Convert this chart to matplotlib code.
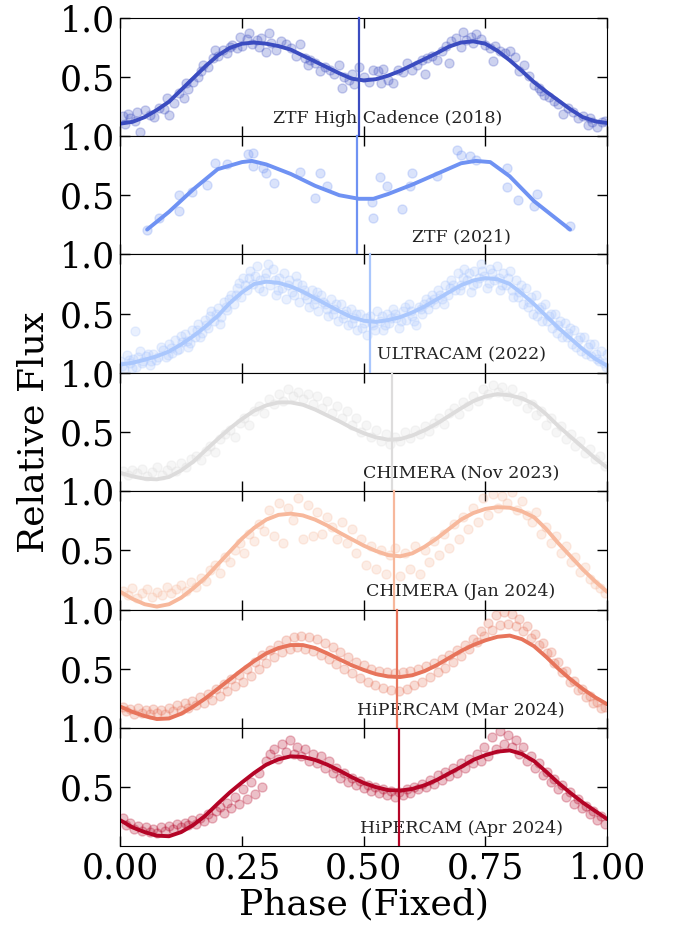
import matplotlib
matplotlib.use("Agg")
import matplotlib.pyplot as plt
import numpy as np

plt.rcParams['font.family'] = 'serif'
plt.rcParams['font.serif'] = ['DejaVu Serif']

# names of the seven light curves, top to bottom
labels = ['ZTF High Cadence (2018)', 'ZTF (2021)', 'ULTRACAM (2022)',
          'CHIMERA (Nov 2023)', 'CHIMERA (Jan 2024)',
          'HiPERCAM (Mar 2024)', 'HiPERCAM (Apr 2024)']

# phase of minimum light marked in each panel
min_phase = [0.491, 0.486, 0.512, 0.558, 0.563, 0.568, 0.572]

# --- folded photometry (phase, relative flux) ---
ztf18_ph = [0.005, 0.01, 0.015, 0.02, 0.03, 0.035, 0.04, 0.05, 0.06, 0.07, 0.08, 0.09, 0.095, 0.10, 0.11,
            0.12, 0.13, 0.135, 0.14, 0.15, 0.16, 0.165, 0.17, 0.18, 0.19, 0.195, 0.20, 0.21, 0.22, 0.225,
            0.23, 0.24, 0.245, 0.25, 0.26, 0.265, 0.27, 0.28, 0.285, 0.29, 0.30, 0.305, 0.31, 0.32, 0.33,
            0.34, 0.35, 0.36, 0.37, 0.38, 0.385, 0.39, 0.40, 0.41, 0.42, 0.43, 0.44, 0.45, 0.455, 0.46,
            0.47, 0.475, 0.48, 0.49, 0.50, 0.51, 0.52, 0.53, 0.535, 0.54, 0.55, 0.56, 0.57, 0.58, 0.59,
            0.60, 0.61, 0.62, 0.625, 0.63, 0.64, 0.65, 0.66, 0.67, 0.675, 0.68, 0.69, 0.70, 0.705, 0.71,
            0.72, 0.725, 0.73, 0.74, 0.75, 0.76, 0.765, 0.77, 0.78, 0.79, 0.80, 0.81, 0.82, 0.83, 0.84,
            0.85, 0.86, 0.865, 0.87, 0.88, 0.89, 0.90, 0.91, 0.92, 0.93, 0.94, 0.95, 0.96, 0.965, 0.97,
            0.98, 0.99, 0.995]
ztf18_fl = [0.17, 0.10, 0.19, 0.15, 0.13, 0.20, 0.03, 0.22, 0.18, 0.16, 0.24, 0.23, 0.32, 0.18, 0.28,
            0.36, 0.32, 0.45, 0.40, 0.46, 0.50, 0.55, 0.60, 0.58, 0.66, 0.73, 0.68, 0.73, 0.70, 0.75,
            0.77, 0.74, 0.84, 0.76, 0.82, 0.87, 0.78, 0.81, 0.75, 0.83, 0.71, 0.87, 0.79, 0.73, 0.80,
            0.78, 0.74, 0.68, 0.78, 0.66, 0.60, 0.64, 0.62, 0.55, 0.58, 0.56, 0.52, 0.60, 0.41, 0.50,
            0.47, 0.52, 0.44, 0.58, 0.50, 0.46, 0.56, 0.55, 0.45, 0.57, 0.47, 0.45, 0.56, 0.54, 0.62,
            0.56, 0.60, 0.64, 0.52, 0.66, 0.68, 0.64, 0.72, 0.76, 0.62, 0.80, 0.83, 0.75, 0.88, 0.81,
            0.84, 0.79, 0.86, 0.82, 0.77, 0.74, 0.63, 0.76, 0.72, 0.70, 0.72, 0.67, 0.55, 0.60, 0.51,
            0.43, 0.41, 0.38, 0.35, 0.33, 0.30, 0.27, 0.19, 0.24, 0.20, 0.15, 0.17, 0.09, 0.15, 0.12,
            0.08, 0.12, 0.13]

ztf21_ph = [0.055, 0.079, 0.12, 0.12, 0.147, 0.178, 0.195, 0.22, 0.263, 0.273, 0.273, 0.294, 0.30,
            0.315, 0.37, 0.40, 0.41, 0.424, 0.517, 0.52, 0.534, 0.548, 0.578, 0.595, 0.599, 0.65,
            0.691, 0.70, 0.718, 0.73, 0.794, 0.794, 0.818, 0.849, 0.856, 0.924]
ztf21_fl = [0.21, 0.31, 0.505, 0.37, 0.53, 0.59, 0.77, 0.76, 0.85, 0.86, 0.75, 0.73, 0.69,
            0.60, 0.70, 0.48, 0.69, 0.58, 0.44, 0.31, 0.65, 0.58, 0.38, 0.58, 0.69, 0.66,
            0.88, 0.84, 0.83, 0.80, 0.73, 0.57, 0.46, 0.41, 0.51, 0.24]

ucam_ph = [0.000, 0.007, 0.013, 0.020, 0.027, 0.030, 0.033, 0.040, 0.047, 0.053, 0.060, 0.067, 0.073,
           0.087, 0.093, 0.100, 0.107, 0.113, 0.120, 0.127, 0.133, 0.140, 0.147, 0.153, 0.160, 0.167,
           0.173, 0.180, 0.187, 0.193, 0.200, 0.207, 0.213, 0.220, 0.227, 0.233, 0.240, 0.247, 0.253,
           0.260, 0.267, 0.273, 0.280, 0.287, 0.293, 0.300, 0.307, 0.313, 0.320, 0.327, 0.333, 0.340,
           0.347, 0.353, 0.360, 0.367, 0.373, 0.380, 0.387, 0.393, 0.400, 0.407, 0.413, 0.420, 0.427,
           0.433, 0.440, 0.447, 0.453, 0.460, 0.467, 0.473, 0.480, 0.487, 0.493, 0.500, 0.507, 0.513,
           0.520, 0.527, 0.533, 0.540, 0.547, 0.553, 0.560, 0.567, 0.573, 0.580, 0.587, 0.593, 0.600,
           0.607, 0.613, 0.620, 0.627, 0.633, 0.640, 0.647, 0.653, 0.660, 0.667, 0.673, 0.680, 0.687,
           0.693, 0.700, 0.707, 0.713, 0.720, 0.727, 0.733, 0.740, 0.747, 0.753, 0.760, 0.767, 0.773,
           0.780, 0.787, 0.793, 0.800, 0.807, 0.813, 0.820, 0.827, 0.833, 0.840, 0.847, 0.853, 0.860,
           0.867, 0.873, 0.880, 0.887, 0.893, 0.900, 0.907, 0.913, 0.920, 0.927, 0.933, 0.940, 0.947,
           0.953, 0.960, 0.967, 0.973, 0.980, 0.987, 0.993, 1.000,
           0.004, 0.017, 0.024, 0.037, 0.044, 0.057, 0.064, 0.077, 0.084, 0.097, 0.104, 0.117,
           0.124, 0.137, 0.144, 0.157, 0.164, 0.177, 0.184, 0.197, 0.204, 0.217, 0.224, 0.237,
           0.244, 0.257, 0.264, 0.277, 0.284, 0.297, 0.304, 0.317, 0.324, 0.337, 0.344, 0.357,
           0.364, 0.377, 0.384, 0.397, 0.404, 0.417, 0.424, 0.437, 0.444, 0.457, 0.464, 0.477,
           0.484, 0.497, 0.504, 0.517, 0.524, 0.537, 0.544, 0.557, 0.564, 0.577, 0.584, 0.597,
           0.604, 0.617, 0.624, 0.637, 0.644, 0.657, 0.664, 0.677, 0.684, 0.697, 0.704, 0.717,
           0.724, 0.737, 0.744, 0.757, 0.764, 0.777, 0.784, 0.797, 0.804, 0.817, 0.824, 0.837,
           0.844, 0.857, 0.864, 0.877, 0.884, 0.897, 0.904, 0.917, 0.924, 0.937, 0.944, 0.957,
           0.964, 0.977, 0.984, 0.997]
ucam_fl = [0.10, 0.03, 0.15, 0.08, 0.12, 0.35, 0.05, 0.18, 0.10, 0.14, 0.07, 0.16, 0.11,
           0.19, 0.13, 0.24, 0.17, 0.28, 0.20, 0.26, 0.33, 0.22, 0.36, 0.30, 0.41, 0.34,
           0.45, 0.38, 0.52, 0.44, 0.55, 0.47, 0.60, 0.53, 0.66, 0.58, 0.72, 0.64, 0.80,
           0.70, 0.86, 0.75, 0.90, 0.78, 0.69, 0.84, 0.74, 0.88, 0.66, 0.80, 0.72, 0.62,
           0.78, 0.68, 0.82, 0.60, 0.74, 0.66, 0.56, 0.70, 0.62, 0.52, 0.66, 0.58, 0.48,
           0.62, 0.54, 0.44, 0.58, 0.50, 0.40, 0.54, 0.46, 0.36, 0.50, 0.42, 0.32, 0.48,
           0.40, 0.52, 0.44, 0.36, 0.50, 0.42, 0.54, 0.46, 0.38, 0.52, 0.45, 0.58, 0.48,
           0.40, 0.56, 0.50, 0.62, 0.54, 0.66, 0.58, 0.70, 0.62, 0.74, 0.66, 0.78, 0.70,
           0.84, 0.74, 0.88, 0.78, 0.68, 0.86, 0.76, 0.92, 0.82, 0.72, 0.88, 0.78, 0.90,
           0.70, 0.84, 0.74, 0.86, 0.64, 0.78, 0.68, 0.58, 0.72, 0.60, 0.50, 0.66, 0.54,
           0.44, 0.58, 0.48, 0.38, 0.50, 0.40, 0.30, 0.42, 0.34, 0.24, 0.36, 0.28, 0.18,
           0.30, 0.22, 0.14, 0.24, 0.12, 0.18, 0.08, 0.16,
           0.06, 0.11, 0.04, 0.13, 0.08, 0.16, 0.10, 0.13, 0.22, 0.15, 0.21, 0.19,
           0.31, 0.27, 0.25, 0.36, 0.30, 0.40, 0.48, 0.50, 0.41, 0.56, 0.62, 0.66,
           0.76, 0.74, 0.80, 0.82, 0.72, 0.80, 0.92, 0.78, 0.70, 0.84, 0.74, 0.66,
           0.76, 0.70, 0.62, 0.58, 0.68, 0.60, 0.54, 0.50, 0.58, 0.46, 0.52, 0.42,
           0.50, 0.38, 0.46, 0.42, 0.36, 0.48, 0.40, 0.46, 0.50, 0.44, 0.56, 0.52,
           0.44, 0.54, 0.58, 0.60, 0.62, 0.66, 0.58, 0.72, 0.74, 0.70, 0.80, 0.84,
           0.74, 0.80, 0.86, 0.76, 0.84, 0.80, 0.74, 0.80, 0.70, 0.64, 0.74, 0.56,
           0.64, 0.48, 0.56, 0.44, 0.50, 0.34, 0.44, 0.30, 0.38, 0.22, 0.30, 0.16,
           0.24, 0.16, 0.10, 0.05]

chim_nov_ph = [0.005, 0.015, 0.025, 0.035, 0.045, 0.055, 0.065, 0.075, 0.085, 0.095, 0.105, 0.115,
               0.125, 0.135, 0.145, 0.155, 0.165, 0.175, 0.185, 0.195, 0.205, 0.215, 0.225, 0.235,
               0.245, 0.255, 0.265, 0.275, 0.285, 0.295, 0.305, 0.315, 0.325, 0.335, 0.345, 0.355,
               0.365, 0.375, 0.385, 0.395, 0.405, 0.415, 0.425, 0.435, 0.445, 0.455, 0.465, 0.475,
               0.485, 0.495, 0.505, 0.515, 0.525, 0.535, 0.545, 0.555, 0.565, 0.575, 0.585, 0.595,
               0.605, 0.615, 0.625, 0.635, 0.645, 0.655, 0.665, 0.675, 0.685, 0.695, 0.705, 0.715,
               0.725, 0.735, 0.745, 0.755, 0.765, 0.775, 0.785, 0.795, 0.805, 0.815, 0.825, 0.835,
               0.845, 0.855, 0.865, 0.875, 0.885, 0.895, 0.905, 0.915, 0.925, 0.935, 0.945, 0.955,
               0.965, 0.975, 0.985, 0.995]
chim_nov_fl = [0.17, 0.14, 0.18, 0.15, 0.19, 0.13, 0.16, 0.20, 0.14, 0.18, 0.22, 0.17,
               0.24, 0.20, 0.27, 0.30, 0.26, 0.34, 0.38, 0.33, 0.44, 0.48, 0.52, 0.46,
               0.58, 0.62, 0.56, 0.68, 0.72, 0.66, 0.78, 0.74, 0.82, 0.76, 0.86, 0.80,
               0.84, 0.78, 0.82, 0.74, 0.80, 0.70, 0.76, 0.66, 0.72, 0.62, 0.68, 0.56,
               0.62, 0.50, 0.56, 0.46, 0.52, 0.42, 0.48, 0.40, 0.46, 0.42, 0.50, 0.45,
               0.52, 0.48, 0.55, 0.51, 0.58, 0.62, 0.57, 0.66, 0.70, 0.65, 0.75, 0.72,
               0.80, 0.76, 0.86, 0.82, 0.90, 0.84, 0.88, 0.80, 0.86, 0.76, 0.80, 0.70,
               0.74, 0.64, 0.68, 0.56, 0.62, 0.50, 0.55, 0.44, 0.48, 0.38, 0.42, 0.32,
               0.36, 0.27, 0.30, 0.21]

chim_jan_ph = [0.005, 0.015, 0.025, 0.035, 0.045, 0.055, 0.065, 0.075, 0.085, 0.095, 0.105, 0.115,
               0.125, 0.135, 0.145, 0.155, 0.165, 0.175, 0.185, 0.195, 0.205, 0.215, 0.225, 0.235,
               0.245, 0.255, 0.265, 0.275, 0.285, 0.295, 0.305, 0.315, 0.325, 0.335, 0.345, 0.355,
               0.365, 0.375, 0.385, 0.395, 0.405, 0.415, 0.425, 0.435, 0.445, 0.455, 0.465, 0.475,
               0.485, 0.495, 0.505, 0.515, 0.525, 0.535, 0.545, 0.555, 0.565, 0.575, 0.585, 0.595,
               0.605, 0.615, 0.625, 0.635, 0.645, 0.655, 0.665, 0.675, 0.685, 0.695, 0.705, 0.715,
               0.725, 0.735, 0.745, 0.755, 0.765, 0.775, 0.785, 0.795, 0.805, 0.815, 0.825, 0.835,
               0.845, 0.855, 0.865, 0.875, 0.885, 0.895, 0.905, 0.915, 0.925, 0.935, 0.945, 0.955,
               0.965, 0.975, 0.985, 0.995]
chim_jan_fl = [0.16, 0.12, 0.18, 0.10, 0.14, 0.17, 0.11, 0.15, 0.12, 0.19, 0.14, 0.17,
               0.21, 0.16, 0.23, 0.19, 0.27, 0.24, 0.33, 0.38, 0.31, 0.44, 0.40, 0.50,
               0.56, 0.48, 0.64, 0.58, 0.72, 0.66, 0.84, 0.62, 0.90, 0.56, 0.86, 0.76,
               0.94, 0.60, 0.88, 0.62, 0.82, 0.64, 0.78, 0.70, 0.60, 0.74, 0.56, 0.68,
               0.48, 0.60, 0.38, 0.54, 0.34, 0.50, 0.30, 0.46, 0.52, 0.28, 0.48, 0.34,
               0.54, 0.30, 0.50, 0.40, 0.58, 0.46, 0.64, 0.52, 0.72, 0.60, 0.78, 0.68,
               0.86, 0.74, 0.94, 0.80, 0.98, 0.86, 0.96, 0.90, 0.99, 0.84, 0.92, 0.80,
               0.74, 0.82, 0.64, 0.70, 0.56, 0.62, 0.48, 0.54, 0.40, 0.44, 0.32, 0.36,
               0.26, 0.22, 0.18, 0.14]

hcam_mar_ph = [0.005, 0.012, 0.020, 0.028, 0.036, 0.044, 0.052, 0.060, 0.068, 0.076, 0.084, 0.092,
               0.100, 0.108, 0.116, 0.124, 0.132, 0.140, 0.148, 0.156, 0.164, 0.172, 0.180, 0.188,
               0.196, 0.204, 0.212, 0.220, 0.228, 0.236, 0.244, 0.252, 0.260, 0.268, 0.276, 0.284,
               0.292, 0.300, 0.308, 0.316, 0.324, 0.332, 0.340, 0.348, 0.356, 0.364, 0.372, 0.380,
               0.388, 0.396, 0.404, 0.412, 0.420, 0.428, 0.436, 0.444, 0.452, 0.460, 0.468, 0.476,
               0.484, 0.492, 0.500, 0.508, 0.516, 0.524, 0.532, 0.540, 0.548, 0.556, 0.564, 0.572,
               0.580, 0.588, 0.596, 0.604, 0.612, 0.620, 0.628, 0.636, 0.644, 0.652, 0.660, 0.668,
               0.676, 0.684, 0.692, 0.700, 0.708, 0.716, 0.724, 0.732, 0.740, 0.748, 0.756, 0.764,
               0.772, 0.780, 0.788, 0.796, 0.804, 0.812, 0.820, 0.828, 0.836, 0.844, 0.852, 0.860,
               0.868, 0.876, 0.884, 0.892, 0.900, 0.908, 0.916, 0.924, 0.932, 0.940, 0.948, 0.956,
               0.964, 0.972, 0.980, 0.988, 0.996]
hcam_mar_fl = [0.18, 0.14, 0.16, 0.12, 0.17, 0.13, 0.15, 0.12, 0.16, 0.13, 0.15, 0.12,
               0.17, 0.14, 0.19, 0.15, 0.21, 0.17, 0.23, 0.19, 0.26, 0.21, 0.29, 0.24,
               0.33, 0.27, 0.37, 0.31, 0.41, 0.35, 0.45, 0.39, 0.50, 0.44, 0.56, 0.50,
               0.62, 0.55, 0.66, 0.60, 0.70, 0.64, 0.74, 0.67, 0.77, 0.68, 0.78, 0.67,
               0.77, 0.65, 0.75, 0.62, 0.72, 0.58, 0.68, 0.54, 0.64, 0.50, 0.60, 0.46,
               0.56, 0.42, 0.53, 0.39, 0.50, 0.36, 0.48, 0.34, 0.47, 0.32, 0.46, 0.31,
               0.47, 0.33, 0.48, 0.36, 0.50, 0.39, 0.52, 0.43, 0.55, 0.47, 0.58, 0.51,
               0.62, 0.56, 0.66, 0.61, 0.70, 0.67, 0.75, 0.73, 0.82, 0.78, 0.89, 0.83,
               0.95, 0.87, 0.98, 0.88, 0.96, 0.86, 0.92, 0.82, 0.86, 0.76, 0.79, 0.70,
               0.72, 0.63, 0.64, 0.55, 0.56, 0.47, 0.48, 0.39, 0.40, 0.32, 0.33, 0.26,
               0.27, 0.21, 0.22, 0.17, 0.18]

hcam_apr_ph = [0.005, 0.012, 0.020, 0.028, 0.036, 0.044, 0.052, 0.060, 0.068, 0.076, 0.084, 0.092,
               0.100, 0.108, 0.116, 0.124, 0.132, 0.140, 0.148, 0.156, 0.164, 0.172, 0.180, 0.188,
               0.196, 0.204, 0.212, 0.220, 0.228, 0.236, 0.244, 0.252, 0.260, 0.268, 0.276, 0.284,
               0.292, 0.300, 0.308, 0.316, 0.324, 0.332, 0.340, 0.348, 0.356, 0.364, 0.372, 0.380,
               0.388, 0.396, 0.404, 0.412, 0.420, 0.428, 0.436, 0.444, 0.452, 0.460, 0.468, 0.476,
               0.484, 0.492, 0.500, 0.508, 0.516, 0.524, 0.532, 0.540, 0.548, 0.556, 0.564, 0.572,
               0.580, 0.588, 0.596, 0.604, 0.612, 0.620, 0.628, 0.636, 0.644, 0.652, 0.660, 0.668,
               0.676, 0.684, 0.692, 0.700, 0.708, 0.716, 0.724, 0.732, 0.740, 0.748, 0.756, 0.764,
               0.772, 0.780, 0.788, 0.796, 0.804, 0.812, 0.820, 0.828, 0.836, 0.844, 0.852, 0.860,
               0.868, 0.876, 0.884, 0.892, 0.900, 0.908, 0.916, 0.924, 0.932, 0.940, 0.948, 0.956,
               0.964, 0.972, 0.980, 0.988, 0.996]
hcam_apr_fl = [0.24, 0.18, 0.20, 0.15, 0.17, 0.13, 0.16, 0.12, 0.15, 0.11, 0.16, 0.13,
               0.17, 0.15, 0.19, 0.16, 0.20, 0.18, 0.22, 0.19, 0.24, 0.21, 0.27, 0.24,
               0.30, 0.33, 0.28, 0.37, 0.32, 0.42, 0.36, 0.48, 0.40, 0.54, 0.44, 0.62,
               0.50, 0.72, 0.78, 0.82, 0.74, 0.86, 0.80, 0.90, 0.78, 0.84, 0.76, 0.82,
               0.72, 0.78, 0.70, 0.76, 0.66, 0.72, 0.62, 0.66, 0.58, 0.62, 0.54, 0.58,
               0.52, 0.55, 0.49, 0.52, 0.47, 0.50, 0.45, 0.48, 0.43, 0.47, 0.42, 0.46,
               0.43, 0.48, 0.45, 0.50, 0.48, 0.53, 0.50, 0.56, 0.53, 0.60, 0.56, 0.63,
               0.59, 0.66, 0.62, 0.70, 0.66, 0.74, 0.70, 0.78, 0.72, 0.84, 0.76, 0.92,
               0.82, 0.97, 0.86, 0.94, 0.84, 0.90, 0.78, 0.84, 0.72, 0.76, 0.66, 0.70,
               0.60, 0.63, 0.54, 0.57, 0.48, 0.52, 0.42, 0.46, 0.36, 0.40, 0.32, 0.34,
               0.27, 0.30, 0.22, 0.26, 0.19]

# --- model light curves ---
# common phase grid for the fitted models
model_grid = [0.000, 0.025, 0.050, 0.075, 0.100, 0.125, 0.150, 0.175, 0.200, 0.225,
              0.250, 0.275, 0.300, 0.325, 0.350, 0.375, 0.400, 0.425, 0.450, 0.475,
              0.500, 0.525, 0.550, 0.575, 0.600, 0.625, 0.650, 0.675, 0.700, 0.725,
              0.750, 0.775, 0.800, 0.825, 0.850, 0.875, 0.900, 0.925, 0.950, 0.975, 1.000]

ztf18_mfl = [0.105, 0.12, 0.16, 0.22, 0.29, 0.39, 0.49, 0.59, 0.68, 0.745,
             0.78, 0.79, 0.78, 0.76, 0.73, 0.68, 0.63, 0.58, 0.53, 0.485,
             0.47, 0.48, 0.51, 0.55, 0.60, 0.65, 0.70, 0.755, 0.79, 0.80,
             0.78, 0.72, 0.64, 0.55, 0.455, 0.375, 0.30, 0.225, 0.16, 0.125, 0.11]

# the 2021 model is only sampled over the observed phase range
ztf21_mph = [0.055, 0.10, 0.15, 0.20, 0.25, 0.27, 0.30, 0.35, 0.40, 0.45, 0.49, 0.52, 0.55, 0.60,
             0.65, 0.70, 0.73, 0.76, 0.80, 0.85, 0.924]
ztf21_mfl = [0.21, 0.36, 0.55, 0.72, 0.78, 0.79, 0.76, 0.68, 0.58, 0.50, 0.47, 0.47, 0.51, 0.59,
             0.68, 0.77, 0.79, 0.78, 0.66, 0.45, 0.21]

ucam_mfl = [0.07, 0.085, 0.11, 0.14, 0.18, 0.24, 0.31, 0.39, 0.48, 0.59,
            0.68, 0.75, 0.77, 0.76, 0.73, 0.685, 0.63, 0.575, 0.52, 0.47,
            0.44, 0.43, 0.445, 0.47, 0.51, 0.56, 0.62, 0.68, 0.74, 0.78,
            0.80, 0.79, 0.75, 0.67, 0.58, 0.48, 0.38, 0.29, 0.20, 0.12, 0.06]

chim_nov_mfl = [0.155, 0.125, 0.105, 0.10, 0.12, 0.175, 0.25, 0.345, 0.44, 0.53,
                0.61, 0.68, 0.725, 0.75, 0.75, 0.73, 0.69, 0.64, 0.59, 0.535,
                0.49, 0.455, 0.435, 0.44, 0.47, 0.515, 0.57, 0.635, 0.70, 0.76,
                0.80, 0.82, 0.81, 0.785, 0.735, 0.65, 0.55, 0.46, 0.37, 0.28, 0.20]

chim_jan_mfl = [0.15, 0.09, 0.045, 0.025, 0.045, 0.10, 0.18, 0.27, 0.38, 0.49,
                0.60, 0.69, 0.76, 0.80, 0.81, 0.795, 0.76, 0.71, 0.65, 0.595,
                0.54, 0.495, 0.46, 0.45, 0.475, 0.53, 0.60, 0.68, 0.76, 0.815,
                0.85, 0.865, 0.86, 0.83, 0.78, 0.68, 0.56, 0.45, 0.34, 0.24, 0.15]

hcam_mar_mfl = [0.18, 0.135, 0.10, 0.075, 0.08, 0.12, 0.18, 0.25, 0.33, 0.41,
                0.49, 0.565, 0.63, 0.675, 0.70, 0.70, 0.675, 0.63, 0.58, 0.53,
                0.49, 0.455, 0.435, 0.43, 0.445, 0.48, 0.53, 0.59, 0.65, 0.70,
                0.74, 0.77, 0.78, 0.75, 0.69, 0.60, 0.50, 0.41, 0.33, 0.26, 0.20]

hcam_apr_mfl = [0.22, 0.16, 0.12, 0.09, 0.085, 0.12, 0.18, 0.26, 0.36, 0.455,
                0.54, 0.62, 0.69, 0.735, 0.76, 0.755, 0.73, 0.69, 0.64, 0.585,
                0.535, 0.50, 0.475, 0.47, 0.485, 0.515, 0.56, 0.615, 0.67, 0.73,
                0.77, 0.80, 0.81, 0.78, 0.72, 0.63, 0.535, 0.45, 0.37, 0.30, 0.23]

data_ph = [ztf18_ph, ztf21_ph, ucam_ph, chim_nov_ph, chim_jan_ph, hcam_mar_ph, hcam_apr_ph]
data_fl = [ztf18_fl, ztf21_fl, ucam_fl, chim_nov_fl, chim_jan_fl, hcam_mar_fl, hcam_apr_fl]
model_ph = [model_grid, ztf21_mph, model_grid, model_grid, model_grid, model_grid, model_grid]
model_fl = [ztf18_mfl, ztf21_mfl, ucam_mfl, chim_nov_mfl, chim_jan_mfl, hcam_mar_mfl, hcam_apr_mfl]

colors = plt.cm.coolwarm(np.linspace(0, 1, len(labels)))
label_x = [0.55, 0.70, 0.70, 0.70, 0.70, 0.70, 0.70]

fig, axes = plt.subplots(len(labels), 1, figsize=(6.76, 9.30), dpi=100, sharex=True)
fig.subplots_adjust(left=0.178, right=0.898, top=0.981, bottom=0.090, hspace=0)

for i, ax in enumerate(axes):
    c = colors[i]
    ax.plot(data_ph[i], data_fl[i], 'o', color=c, ms=6.5, alpha=0.25, mew=1)
    ax.plot(model_ph[i], model_fl[i], '-', color=c, lw=2.8,
            solid_joinstyle='round', solid_capstyle='round')
    if i < len(labels) - 1:
        ax.axvline(min_phase[i], ymin=-0.08, ymax=1, color=c, lw=1.6, clip_on=False, zorder=5)
    else:
        ax.axvline(min_phase[i], color=c, lw=1.6, zorder=5)
    ax.text(label_x[i], 0.15, labels[i], ha='center', va='center', fontsize=12.5, color='#222222')

    ax.set_xlim(0, 1)
    ax.set_ylim(0, 1)
    ax.set_yticks([0.5, 1.0])
    ax.set_xticks([0, 0.25, 0.5, 0.75, 1.0])
    ax.tick_params(direction='in', top=True, right=True, length=7, width=1, labelsize=25)

axes[-1].set_xlabel('Phase (Fixed)', fontsize=26, labelpad=2)
fig.text(0.05, 0.535, 'Relative Flux', rotation=90, ha='center', va='center', fontsize=26)

fig.savefig('out.png', dpi=100)
